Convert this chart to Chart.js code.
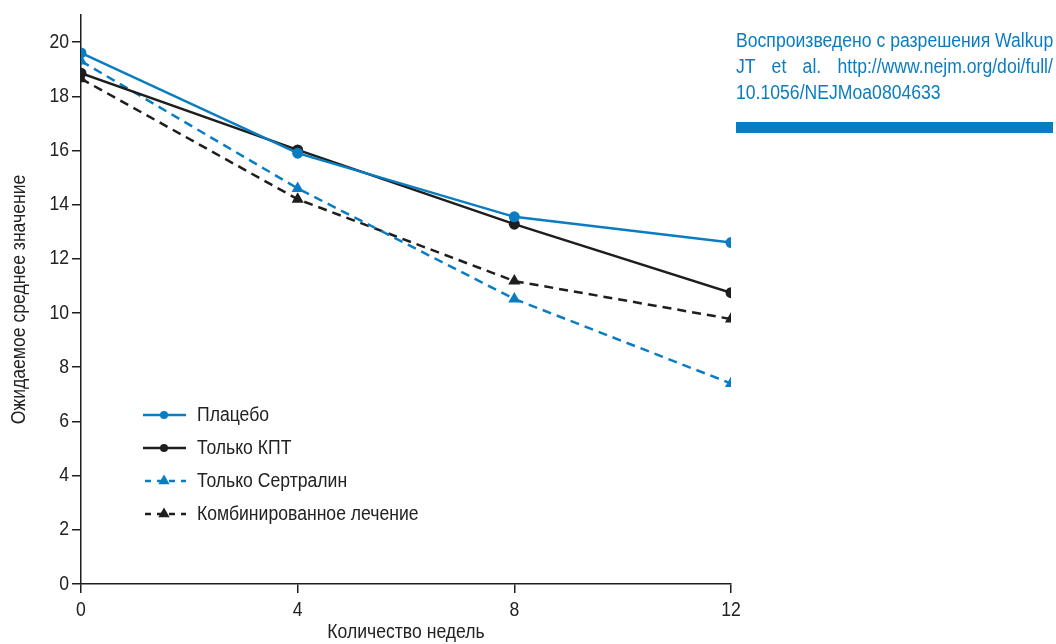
<!DOCTYPE html>
<html>
<head>
<meta charset="utf-8">
<script src="https://cdn.jsdelivr.net/npm/chart.js@4"></script>
<style>
  html, body { margin: 0; padding: 0; background: #fff; }
  #wrap { position: relative; width: 1056px; height: 644px; overflow: hidden; }
  #note { position: absolute; left: 736px; top: 27px; color: #0a7dc2; transform-origin: 0 0;
          font-family: 'Liberation Sans', Arial, sans-serif; font-size: 20px; line-height: 26px; }
  #note span { display: block; white-space: nowrap; width: max-content; }
  #bar { position: absolute; left: 736px; top: 122px; width: 317px; height: 11px; background: #0a7dc2; }
</style>
</head>
<body>
<div id="wrap">
  <canvas id="c" width="1056" height="644"></canvas>
  <div id="note">
    <span id="l1">Воспроизведено с разрешения Walkup</span>
    <span id="l2">JT et al. http://www.nejm.org/doi/full/</span>
    <span id="l3">10.1056/NEJMoa0804633</span>
  </div>
  <div id="bar"></div>
</div>
<script>
const weeks = [0, 4, 8, 12];
const placebo = [19.6, 15.9, 13.55, 12.6];
const cbtOnly = [18.85, 16.02, 13.28, 10.75];
const sertralineOnly = [19.3, 14.6, 10.52, 7.4];
const combination = [18.65, 14.2, 11.18, 9.78];
const seriesNames = ['Плацебо', 'Только КПТ', 'Только Сертралин', 'Комбинированное лечение'];
const yTicks = [0, 2, 4, 6, 8, 10, 12, 14, 16, 18, 20];
const xTicks = [0, 4, 8, 12];

const BLUE = '#0a7dc2';
const DARK = '#1e1e1e';
const FONT = "'Liberation Sans', Arial, sans-serif";
const SX = 0.88; // condensed look

// fit annotation lines to the reference width
(function fitNote() {
  const W = 317;
  const l1 = document.getElementById('l1');
  const l2 = document.getElementById('l2');
  const w1 = l1.offsetWidth;
  const w2 = l2.offsetWidth;
  const s = W / w1;
  document.getElementById('note').style.transform = 'scaleX(' + s + ')';
  const extra = (W / s - w2) / 3;
  l2.style.wordSpacing = (extra > 0 ? extra : 0) + 'px';
})();

const canvas = document.getElementById('c');
const ctx2d = canvas.getContext('2d');
ctx2d.fillText = function (text, x, y) {
  this.save();
  this.translate(x, y);
  this.scale(SX, 1);
  CanvasRenderingContext2D.prototype.fillText.call(this, text, 0, 0);
  this.restore();
};

function pts(vals) { return weeks.map((w, i) => ({ x: w, y: vals[i] })); }

const styles = [
  { color: BLUE, dash: [], point: 'circle', r: 5.5 },
  { color: DARK, dash: [], point: 'circle', r: 5.5 },
  { color: BLUE, dash: [9, 6], point: 'triangle', r: 7 },
  { color: DARK, dash: [9, 6], point: 'triangle', r: 7 }
];
const allVals = [placebo, cbtOnly, sertralineOnly, combination];

const datasets = allVals.map((v, i) => ({
  label: seriesNames[i],
  data: pts(v),
  borderColor: styles[i].color,
  backgroundColor: styles[i].color,
  borderWidth: 2.5,
  borderDash: styles[i].dash,
  pointStyle: styles[i].point,
  pointRadius: styles[i].r,
  pointBorderWidth: 0,
  pointHoverRadius: styles[i].r,
  tension: 0
}));

const legendPlugin = {
  id: 'innerLegend',
  afterDraw(chart) {
    const ctx = chart.ctx;
    const rows = [415, 448, 481, 514];
    ctx.save();
    datasets.forEach((d, i) => {
      const y = rows[i];
      const x0 = 143, x1 = 186, xm = 164;
      ctx.strokeStyle = styles[i].color;
      ctx.lineWidth = 2.5;
      if (styles[i].dash.length) {
        ctx.setLineDash([6, 6]);
        ctx.beginPath(); ctx.moveTo(x0 + 2, y); ctx.lineTo(x1, y); ctx.stroke();
      } else {
        ctx.setLineDash([]);
        ctx.beginPath(); ctx.moveTo(x0, y); ctx.lineTo(x1, y); ctx.stroke();
      }
      ctx.setLineDash([]);
      ctx.fillStyle = styles[i].color;
      Chart.helpers.drawPoint(ctx, { pointStyle: styles[i].point, radius: styles[i].point === 'circle' ? 4 : 6.5, borderWidth: 0 }, xm, y);
      ctx.fillStyle = '#222';
      ctx.font = '20px ' + FONT;
      ctx.textBaseline = 'middle';
      ctx.textAlign = 'left';
      ctx.fillText(d.label, 197, y);
    });
    ctx.restore();
  }
};

new Chart(canvas, {
  type: 'line',
  data: { datasets },
  options: {
    responsive: false,
    animation: false,
    layout: { padding: { left: 0, top: 12, right: 325, bottom: 0 } },
    plugins: { legend: { display: false }, tooltip: { enabled: false } },
    scales: {
      x: {
        type: 'linear', min: 0, max: 12,
        afterBuildTicks(s) { s.ticks = xTicks.map(v => ({ value: v })); },
        afterFit(s) { s.height = 60; },
        ticks: { color: '#222', font: { family: FONT, size: 20 }, padding: 5 },
        grid: { display: true, drawOnChartArea: false, drawTicks: true, tickLength: 9, color: DARK, lineWidth: 1.5 },
        border: { display: true, color: DARK, width: 1.5 },
        title: { display: true, text: 'Количество недель', color: '#222', font: { family: FONT, size: 20 }, padding: { top: -4, bottom: 0 } }
      },
      y: {
        type: 'linear', min: 0, max: 21,
        afterBuildTicks(s) { s.ticks = yTicks.map(v => ({ value: v })); },
        afterFit(s) { s.width = 81; },
        ticks: { color: '#222', font: { family: FONT, size: 20 }, padding: 3 },
        grid: { display: true, drawOnChartArea: false, drawTicks: true, tickLength: 9, color: DARK, lineWidth: 1.5 },
        border: { display: true, color: DARK, width: 1.5 },
        title: { display: true, text: 'Ожидаемое среднее значение', color: '#222', font: { family: FONT, size: 20 }, padding: { top: 7, bottom: 2 } }
      }
    }
  },
  plugins: [legendPlugin]
});
</script>
</body>
</html>
